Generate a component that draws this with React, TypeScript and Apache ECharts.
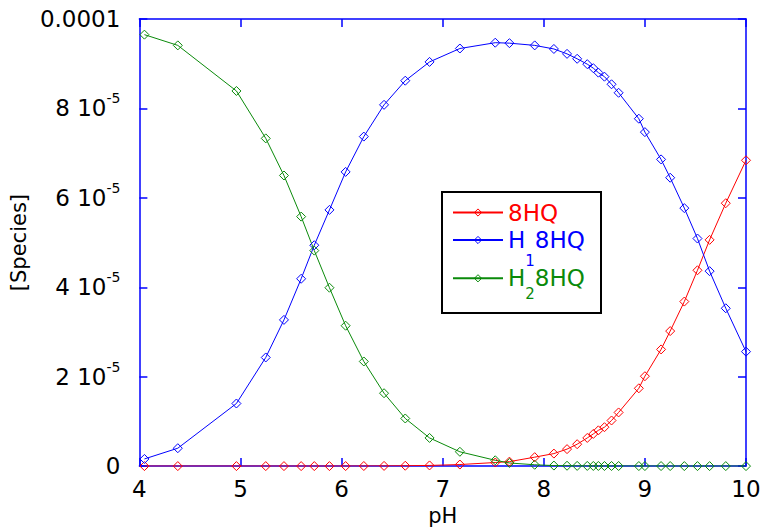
import React, { useEffect, useRef } from "react";
import * as echarts from "echarts";

// pH values of the computed points
const pH = [4.05, 4.38, 4.96, 5.25, 5.43, 5.6, 5.73, 5.88, 6.04, 6.22, 6.42, 6.63, 6.87, 7.17, 7.52, 7.66, 7.91, 8.1, 8.23, 8.33, 8.43, 8.49, 8.54, 8.6, 8.67, 8.74, 8.94, 9.0, 9.16, 9.25, 9.39, 9.52, 9.64, 9.8, 10.0];
// concentrations in units of 1e-5
const c8HQ = [0, 0, 0, 0, 0, 0, 0, 0, 0.001, 0.002, 0.004, 0.008, 0.015, 0.035, 0.08, 0.1, 0.2, 0.28, 0.38, 0.49, 0.63, 0.72, 0.8, 0.87, 1.02, 1.2, 1.74, 2.01, 2.61, 3.02, 3.68, 4.38, 5.06, 5.88, 6.84];
const cH18HQ = [0.16, 0.4, 1.4, 2.43, 3.27, 4.19, 4.94, 5.73, 6.58, 7.37, 8.08, 8.62, 9.04, 9.34, 9.47, 9.46, 9.41, 9.33, 9.22, 9.11, 8.99, 8.9, 8.8, 8.71, 8.54, 8.35, 7.77, 7.47, 6.86, 6.45, 5.77, 5.09, 4.36, 3.53, 2.56];
const cH28HQ = [9.65, 9.41, 8.39, 7.33, 6.5, 5.58, 4.82, 3.99, 3.14, 2.34, 1.63, 1.065, 0.63, 0.32, 0.13, 0.07, 0.03, 0.012, 0.008, 0.005, 0.004, 0.003, 0.003, 0.002, 0.002, 0.002, 0.001, 0.001, 0.001, 0.001, 0, 0, 0, 0, 0];
const UNIT = 1e-5;

const seriesNames = ["8HQ", "H18HQ", "H28HQ"];
const xTicks = { min: 4, max: 10, interval: 1 };
const yTicks = { min: 0, max: 1e-4, interval: 2e-5 };

const RED = "#ff0000";
const BLUE = "#0000ff";
const GREEN = "#0a8a0a";
const FONT = "DejaVu Sans, Liberation Sans, sans-serif";

export default function App() {
  const ref = useRef<HTMLDivElement>(null);
  useEffect(() => {
    if (!ref.current) return;
    const chart = echarts.init(ref.current, null, { renderer: "svg" });
    const mk = (vals: number[]) => pH.map((x, i) => [x, vals[i] * UNIT]);
    const colors = [RED, BLUE, GREEN];
    const datasets = [c8HQ, cH18HQ, cH28HQ];
    const series = seriesNames.map((name, i) => ({
      name,
      type: "line",
      data: mk(datasets[i]),
      symbol: "diamond",
      symbolSize: 9,
      showSymbol: true,
      color: colors[i],
      itemStyle: { color: "rgba(0,0,0,0)", borderColor: colors[i], borderWidth: 1 },
      lineStyle: { color: colors[i], width: 1 },
      emphasis: { disabled: true },
      z: 3,
    }));

    const axisCommon = {
      type: "value",
      axisLine: { show: true, onZero: false, lineStyle: { color: BLUE, width: 1.5 } },
      axisTick: { show: true, inside: true, length: 8, lineStyle: { color: BLUE, width: 1.5 } },
      splitLine: { show: false },
    };

    const legendBase = (name: string, top: number, color: string, text: string, rich: any) => ({
      data: [{ name }],
      orient: "vertical",
      left: 452,
      top,
      padding: 0,
      itemWidth: 50,
      itemHeight: 9,
      selectedMode: false,
      z: 6,
      itemStyle: { borderWidth: 1 },
      formatter: () => text,
      textStyle: {
        color,
        fontFamily: FONT,
        fontSize: 23,
        rich,
      },
    });

    const richSub = (color: string, lh: number) => ({
      h: { color, fontFamily: FONT, fontSize: 23, lineHeight: 24 },
      s: { color, fontFamily: FONT, fontSize: 15, lineHeight: lh, verticalAlign: "bottom" },
    });

    chart.setOption({
      animation: false,
      backgroundColor: "#ffffff",
      grid: { left: 127, right: 27, top: 19, bottom: 61, containLabel: false },
      xAxis: [
        {
          ...axisCommon,
          ...xTicks,
          position: "bottom",
          name: "pH",
          nameLocation: "middle",
          nameGap: 36,
          nameTextStyle: { color: "#000", fontFamily: FONT, fontSize: 21 },
          axisLabel: { color: "#000", fontFamily: FONT, fontSize: 23, margin: 11 },
        },
        {
          ...axisCommon,
          ...xTicks,
          position: "top",
          axisLabel: { show: false },
        },
      ],
      yAxis: [
        {
          ...axisCommon,
          ...yTicks,
          position: "left",
          name: "[Species]",
          nameLocation: "middle",
          nameGap: 92,
          nameRotate: 90,
          nameTextStyle: { color: "#000", fontFamily: FONT, fontSize: 21 },
          axisLabel: {
            color: "#000",
            fontFamily: FONT,
            fontSize: 23,
            margin: 19,
            formatter: (v: number) => {
              const n = Math.round(v / UNIT);
              if (n === 0) return "0";
              if (n === 10) return "0.0001";
              return `{m|${n} 10}{p|-5}`;
            },
            rich: {
              m: { color: "#000", fontFamily: FONT, fontSize: 23 },
              p: { color: "#000", fontFamily: FONT, fontSize: 14, padding: [0, 0, 20, 0] },
            },
          },
        },
        {
          ...axisCommon,
          ...yTicks,
          position: "right",
          axisLabel: { show: false },
        },
      ],
      legend: [
        legendBase("8HQ", 201, RED, "{h|8HQ}", { h: { color: RED, fontFamily: FONT, fontSize: 23, lineHeight: 24 } }),
        legendBase("H18HQ", 228.5, BLUE, "{h|H}{s|1}{h|8HQ}", richSub(BLUE, 56)),
        legendBase("H28HQ", 266.8, GREEN, "{h|H}{s|2}{h|8HQ}", richSub(GREEN, 46)),
      ],
      graphic: [
        {
          type: "rect",
          z: 5,
          shape: { x: 442, y: 192, width: 159, height: 121 },
          style: { fill: "#ffffff", stroke: "#000000", lineWidth: 2 },
        },
      ],
      series,
    });
    return () => chart.dispose();
  }, []);
  return (
    <div
      ref={ref}
      style={{ position: "fixed", left: 0, top: 0, width: 773, height: 531, background: "#fff" }}
    />
  );
}
